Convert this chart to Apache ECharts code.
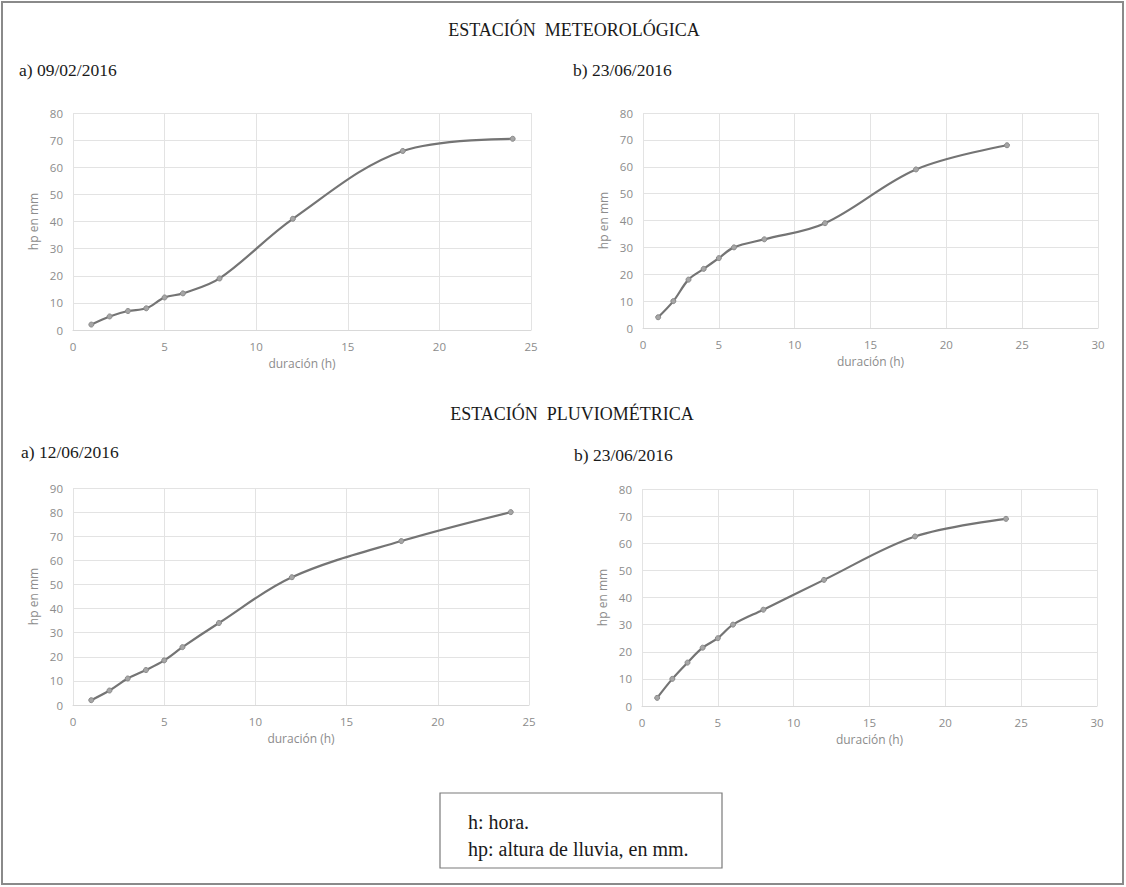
<!DOCTYPE html>
<html>
<head>
<meta charset="utf-8">
<title>Curvas hp - duración</title>
<script src="https://cdn.jsdelivr.net/npm/echarts@6/dist/echarts.min.js"></script>
<style>
  html, body { margin: 0; padding: 0; background: #ffffff; }
  #chart { width: 1126px; height: 887px; }
</style>
</head>
<body>
<div id="chart"></div>
<script>
// Duraciones de la tormenta (h)
const durations = [1, 2, 3, 4, 5, 6, 8, 12, 18, 24];

// Altura de lluvia acumulada hp (mm) por estación y fecha
const meteo_0902 = [2, 5, 7, 8, 12, 13.5, 19, 41, 66, 70.5];
const meteo_2306 = [4, 10, 18, 22, 26, 30, 33, 39, 59, 68];
const pluvio_1206 = [2, 6, 11, 14.5, 18.5, 24, 34, 53, 68, 80];
const pluvio_2306 = [3, 10, 16, 21.5, 25, 30, 35.5, 46.5, 62.5, 69];

// Textos
const stationTitles = ['ESTACIÓN  METEOROLÓGICA', 'ESTACIÓN  PLUVIOMÉTRICA'];
const panelTitles = ['a) 09/02/2016', 'b) 23/06/2016', 'a) 12/06/2016', 'b) 23/06/2016'];
const xAxisName = 'duración (h)';
const yAxisName = 'hp en mm';
const notes = ['h: hora.', 'hp: altura de lluvia, en mm.'];

// Escalas de los ejes de cada panel
const xMaxes = [25, 30, 25, 30];
const yMaxes = [80, 80, 90, 80];
const panelData = [meteo_0902, meteo_2306, pluvio_1206, pluvio_2306];

const grids = [
  { left: 73, top: 113, width: 458, height: 217 },
  { left: 643, top: 113, width: 455, height: 215 },
  { left: 73, top: 488, width: 456, height: 217 },
  { left: 642, top: 489, width: 455, height: 217 }
];

const serif = '"Liberation Serif", "DejaVu Serif", serif';
const sans = '"Open Sans", "Noto Sans", sans-serif';
const tickColor = '#8c8c8c';
const gridColor = '#e3e3e3';

const xAxes = xMaxes.map((mx, i) => ({
  type: 'value', gridIndex: i, min: 0, max: mx, interval: 5,
  name: xAxisName, nameLocation: 'middle', nameGap: 27,
  nameTextStyle: { color: tickColor, fontFamily: sans, fontSize: 12 },
  axisLine: { show: true, lineStyle: { color: '#d9d9d9' } },
  axisTick: { show: false },
  axisLabel: { color: tickColor, fontFamily: sans, fontSize: 11.5, margin: 10 },
  splitLine: { show: true, lineStyle: { color: gridColor, width: 1 } }
}));

const yAxes = yMaxes.map((mx, i) => ({
  type: 'value', gridIndex: i, min: 0, max: mx, interval: 10,
  name: yAxisName, nameLocation: 'middle', nameGap: 34, nameRotate: 90,
  nameTextStyle: { color: tickColor, fontFamily: sans, fontSize: 12 },
  axisLine: { show: false },
  axisTick: { show: false },
  axisLabel: { color: tickColor, fontFamily: sans, fontSize: 11.5, margin: 10 },
  splitLine: { show: true, lineStyle: { color: gridColor, width: 1 } }
}));

const series = panelData.map((vals, i) => ({
  type: 'line', xAxisIndex: i, yAxisIndex: i,
  data: durations.map((d, k) => [d, vals[k]]),
  smooth: 0.35,
  symbol: 'circle', symbolSize: 5,
  lineStyle: { color: '#747474', width: 2.2 },
  itemStyle: { color: '#a6a6a6', borderColor: '#8a8a8a', borderWidth: 1 },
  emphasis: { disabled: true },
  animation: false
}));

function label(text, x, y, size, align) {
  return {
    type: 'text', x: x, y: y,
    style: { text: text, fill: '#1a1a1a', font: size + 'px ' + serif,
             textAlign: align || 'left', textVerticalAlign: 'middle' }
  };
}

const graphics = [
  // marco exterior
  { type: 'rect', shape: { x: 2, y: 2, width: 1121, height: 882 },
    style: { fill: 'none', stroke: '#8a8a8a', lineWidth: 2 } },
  label(stationTitles[0], 574, 30, 18, 'center'),
  label(panelTitles[0], 19, 70, 17.5),
  label(panelTitles[1], 573, 70, 17.5),
  label(stationTitles[1], 572, 414, 18, 'center'),
  label(panelTitles[2], 21, 452, 17.5),
  label(panelTitles[3], 574, 455, 17.5),
  // recuadro de notas
  { type: 'rect', shape: { x: 440, y: 793, width: 282, height: 75 },
    style: { fill: '#ffffff', stroke: '#7a7a7a', lineWidth: 1.2 } },
  label(notes[0], 468, 822, 20),
  label(notes[1], 468, 849, 20)
];

const chart = echarts.init(document.getElementById('chart'), null, { renderer: 'svg' });
chart.setOption({
  backgroundColor: '#ffffff',
  animation: false,
  grid: grids,
  xAxis: xAxes,
  yAxis: yAxes,
  series: series,
  graphic: graphics
});
</script>
</body>
</html>
